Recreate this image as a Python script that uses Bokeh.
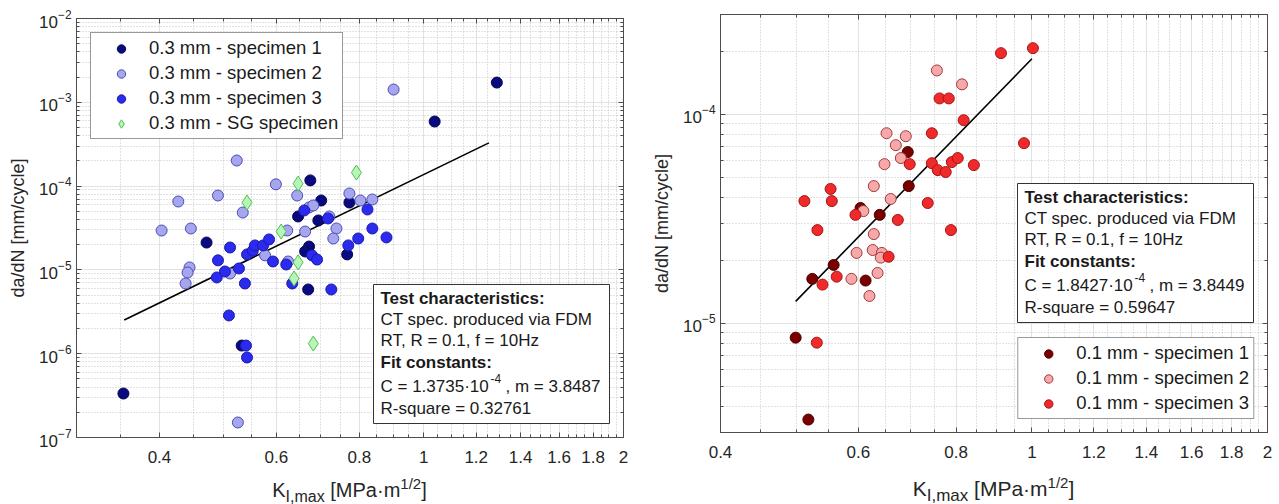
from bokeh.plotting import figure
from bokeh.layouts import row, column
from bokeh.models import (FixedTicker, LogAxis, LogTickFormatter,
                          CustomJSTickFormatter, Label, BoxAnnotation, Div)
from bokeh.embed import file_html
from bokeh.resources import INLINE

FONT = "Liberation Sans"
AXC = "#4d4d4d"
TXT = "#262626"

# ---------------- panel (a): 0.3 mm layer ----------------
a_spec1_k = [1.289, 1.039, 0.353, 0.471, 0.675, 0.701, 0.647, 0.694, 0.773, 0.672, 0.663, 0.767, 0.670, 0.532]
a_spec1_rate = [1.72e-3, 5.90e-4, 3.35e-7, 2.12e-5, 1.17e-4, 6.73e-5, 4.34e-5, 3.89e-5, 6.37e-5, 1.90e-5,
                1.66e-5, 1.53e-5, 5.84e-6, 1.25e-6]

a_spec2_k = [0.901, 0.523, 0.427, 0.490, 0.599, 0.645, 0.534, 0.403, 0.446, 0.672,
             0.682, 0.773, 0.803, 0.837, 0.721, 0.739, 0.731, 0.623, 0.663, 0.444,
             0.441, 0.438, 0.511, 0.577, 0.625, 0.525]
a_spec2_rate = [1.42e-3, 2.02e-4, 6.55e-5, 7.72e-5, 1.05e-4, 7.72e-5, 4.84e-5, 2.95e-5, 3.12e-5, 5.56e-5,
                5.87e-5, 8.16e-5, 6.73e-5, 6.92e-5, 4.34e-5, 3.12e-5, 2.37e-5, 2.95e-5, 2.87e-5, 1.07e-5,
                9.31e-6, 6.88e-6, 9.06e-6, 1.49e-5, 1.26e-5, 1.51e-7]

a_spec3_k = [0.511, 0.490, 0.488, 0.502, 0.527, 0.538, 0.542, 0.553, 0.557, 0.573,
             0.585, 0.593, 0.621, 0.509, 0.540, 0.542, 0.634, 0.679, 0.691, 0.726,
             0.770, 0.661, 0.718, 0.823, 0.837, 0.797, 0.879]
a_spec3_rate = [1.85e-5, 1.30e-5, 8.12e-6, 9.57e-6, 1.04e-5, 6.88e-6, 1.53e-5, 1.70e-5, 1.96e-5, 1.96e-5,
                2.31e-5, 1.26e-5, 1.16e-5, 2.86e-6, 1.25e-6, 9.01e-7, 6.88e-6, 1.49e-5, 1.33e-5, 5.84e-6,
                1.96e-5, 5.12e-5, 4.11e-5, 5.26e-5, 3.12e-5, 2.37e-5, 2.44e-5]

a_sg_k = [0.542, 0.647, 0.792, 0.610, 0.647, 0.638, 0.682]
a_sg_rate = [6.37e-5, 1.07e-4, 1.45e-4, 2.87e-5, 1.23e-5, 7.89e-6, 1.32e-6]

a_fit_C = 1.3735e-4
a_fit_m = 3.8487
a_fit_k = [0.354, 1.254]
a_fit_rate = [a_fit_C * k ** a_fit_m for k in a_fit_k]

# ---------------- panel (b): 0.1 mm layer ----------------
b_spec1_k = [0.694, 0.696, 0.604, 0.639, 0.558, 0.524, 0.613, 0.499, 0.518]
b_spec1_rate = [6.59e-5, 4.53e-5, 3.56e-5, 3.30e-5, 1.90e-5, 1.63e-5, 1.60e-5, 8.53e-6, 3.46e-6]

b_spec2_k = [0.756, 0.814, 0.652, 0.690, 0.670, 0.680, 0.648, 0.628, 0.660, 0.609,
             0.628, 0.597, 0.626, 0.643, 0.641, 0.635, 0.588, 0.620]
b_spec2_rate = [1.62e-4, 1.39e-4, 8.11e-5, 7.85e-5, 7.11e-5, 6.17e-5, 5.77e-5, 4.53e-5, 3.93e-5, 3.44e-5,
                2.67e-5, 2.17e-5, 2.24e-5, 2.17e-5, 2.06e-5, 1.74e-5, 1.63e-5, 1.35e-5]

b_spec3_k = [0.913, 1.003, 0.818, 0.977, 0.843, 0.762, 0.783, 0.745, 0.698, 0.745,
             0.758, 0.776, 0.790, 0.804, 0.553, 0.555, 0.512, 0.595, 0.674, 0.736,
             0.532, 0.788, 0.656, 0.563, 0.540, 0.531]
b_spec3_rate = [1.96e-4, 2.07e-4, 9.36e-5, 7.27e-5, 5.71e-5, 1.19e-4, 1.19e-4, 8.11e-5, 5.77e-5, 5.83e-5,
                5.40e-5, 5.29e-5, 5.90e-5, 6.17e-5, 4.39e-5, 3.84e-5, 3.84e-5, 3.30e-5, 3.12e-5, 3.76e-5,
                2.79e-5, 2.79e-5, 2.08e-5, 1.67e-5, 1.53e-5, 8.07e-6]

b_fit_C = 1.8427e-4
b_fit_m = 3.8449
b_fit_k = [0.499, 1.0]
b_fit_rate = [b_fit_C * k ** b_fit_m for k in b_fit_k]

# ---------------- ticks ----------------
x_major = [0.4, 0.6, 0.8, 1, 1.2, 1.4, 1.6, 1.8, 2]
a_x_minor = [round(0.3 + 0.05 * i, 2) for i in range(34)]
a_x_minor = [v for v in a_x_minor if all(abs(v - t) > 1e-9 for t in x_major)]
b_x_minor = [v for v in a_x_minor if v > 0.4]
a_y_major = [1e-7, 1e-6, 1e-5, 1e-4, 1e-3, 1e-2]
a_y_minor = [k * 10.0 ** e for e in range(-7, -2) for k in range(2, 10)]
b_y_major = [1e-5, 1e-4]
b_y_minor = [k * 10.0 ** e for e in range(-6, -3) for k in range(2, 10)]
b_y_minor = [v for v in b_y_minor if 2.9e-6 < v < 3.1e-4]


def x_label_html(sub_fs, sup_fs):
    return (f'K<sub style="font-size:{sub_fs}px">I,max</sub> [MPa&middot;m'
            f'<sup style="font-size:{sup_fs}px">1/2</sup>]')


def style_axis(ax, standoff):
    ax.axis_line_color = AXC
    ax.major_tick_in = 5
    ax.major_tick_out = 0
    ax.minor_tick_in = 3
    ax.minor_tick_out = 0
    ax.major_tick_line_color = AXC
    ax.minor_tick_line_color = AXC
    ax.major_label_text_font = FONT
    ax.major_label_text_font_size = "17px"
    ax.major_label_text_color = TXT
    ax.major_label_standoff = standoff


def panel(x_range, y_range, x_minor, y_major, y_minor, width, height, mb):
    p = figure(width=width, height=height, x_axis_type="log", y_axis_type="log",
               x_range=x_range, y_range=y_range, output_backend="svg",
               toolbar_location=None, min_border_left=mb[0], min_border_right=mb[1],
               min_border_top=mb[2], min_border_bottom=mb[3])
    p.background_fill_color = "white"
    p.border_fill_color = "white"
    p.outline_line_color = AXC
    p.outline_line_width = 1
    xt = FixedTicker(ticks=x_major, minor_ticks=x_minor)
    yt = FixedTicker(ticks=y_major, minor_ticks=y_minor)
    p.xaxis.ticker = xt
    p.yaxis.ticker = yt
    p.xgrid.ticker = xt
    p.ygrid.ticker = yt
    p.xaxis.formatter = CustomJSTickFormatter(code="return (Math.round(tick*100)/100).toString();")
    p.yaxis.formatter = LogTickFormatter()
    style_axis(p.xaxis[0], 13)
    style_axis(p.yaxis[0], 5)
    p.yaxis.axis_label = "da/dN [mm/cycle]"
    p.yaxis.axis_label_text_font = FONT
    p.yaxis.axis_label_text_font_size = "18px"
    p.yaxis.axis_label_text_font_style = "normal"
    p.yaxis.axis_label_text_color = TXT
    p.yaxis.axis_label_standoff = 8
    for g in (p.xgrid, p.ygrid):
        g.grid_line_color = "#e2e2e2"
        g.grid_line_width = 1
        g.minor_grid_line_color = "#c4c4c4"
        g.minor_grid_line_dash = "1 2"
        g.minor_grid_line_width = 1
    blank = CustomJSTickFormatter(code="return '';")
    top = LogAxis(ticker=xt, formatter=blank)
    style_axis(top, 0)
    p.add_layout(top, "above")
    right = LogAxis(ticker=yt, formatter=blank)
    style_axis(right, 0)
    p.add_layout(right, "right")
    return p


def info_box(p, top, C_txt, m_txt, r2_txt):
    p.add_layout(BoxAnnotation(left=297, right=533, bottom=top - 139, top=top,
                               left_units="screen", right_units="screen",
                               top_units="screen", bottom_units="screen",
                               fill_color="white", fill_alpha=1.0,
                               line_color="#333333", line_width=1, line_alpha=1.0))
    lines = [("Test characteristics:", "bold", 14), ("CT spec. produced via FDM", "normal", 35),
             ("RT, R = 0.1, f = 10Hz", "normal", 56), ("Fit constants:", "bold", 78),
             (r2_txt, "normal", 124)]
    for txt, st, off in lines:
        p.add_layout(Label(x=304, y=top - off, x_units="screen", y_units="screen", text=txt,
                           text_font=FONT, text_font_size="17px", text_font_style=st,
                           text_color="#1a1a1a", text_baseline="middle"))
    yc = top - 102
    p.add_layout(Label(x=304, y=yc, x_units="screen", y_units="screen", text=C_txt,
                       text_font=FONT, text_font_size="17px", text_color="#1a1a1a",
                       text_baseline="middle"))
    p.add_layout(Label(x=414, y=yc + 8, x_units="screen", y_units="screen", text="-4",
                       text_font=FONT, text_font_size="12px", text_color="#1a1a1a",
                       text_baseline="middle"))
    p.add_layout(Label(x=429, y=yc, x_units="screen", y_units="screen", text=m_txt,
                       text_font=FONT, text_font_size="17px", text_color="#1a1a1a",
                       text_baseline="middle"))


def style_legend(p, loc, margin):
    lg = p.legend[0]
    lg.location = loc
    lg.margin = margin
    lg.padding = 4
    lg.spacing = 3
    lg.glyph_width = 52
    lg.glyph_height = 21
    lg.label_height = 21
    lg.label_standoff = 2
    lg.label_text_font = FONT
    lg.label_text_font_size = "18.5px"
    lg.label_text_color = "#1a1a1a"
    lg.border_line_color = "#333333"
    lg.border_line_width = 1
    lg.background_fill_color = "white"
    lg.background_fill_alpha = 1.0


def x_label_div(width, ml, mr, pad_top, fs, sub_fs, sup_fs):
    return Div(text=x_label_html(sub_fs, sup_fs), width=width, height=504 - 470,
               margin=(0, mr, 0, ml),
               styles={"font-family": FONT, "font-size": f"{fs}px", "color": TXT,
                       "text-align": "center", "line-height": "20px",
                       "padding-top": f"{pad_top}px", "white-space": "nowrap",
                       "width": f"{width}px", "overflow": "visible"})


# ---------------- panel (a) ----------------
p1 = panel((0.3, 2), (1e-7, 1e-2), a_x_minor, a_y_major, a_y_minor, 640, 470, (76, 17, 18, 33))
p1.line(a_fit_k, a_fit_rate, line_color="black", line_width=1.6)
p1.scatter(a_spec1_k, a_spec1_rate, marker="circle", size=11, fill_color="#0a0a80",
           line_color="#05054d", legend_label="0.3 mm - specimen 1")
p1.scatter(a_spec2_k, a_spec2_rate, marker="circle", size=11, fill_color="#a6a6ee",
           line_color="#4b4bb4", legend_label="0.3 mm - specimen 2")
p1.scatter(a_spec3_k, a_spec3_rate, marker="circle", size=11, fill_color="#2b2bef",
           line_color="#1a1aa8", legend_label="0.3 mm - specimen 3")
p1.scatter(a_sg_k, a_sg_rate, marker="diamond", size=15, fill_color="#b8f5b8",
           line_color="#4fbf4f", legend_label="0.3 mm - SG specimen")
style_legend(p1, "top_left", 14)
info_box(p1, 153, "C = 1.3735\u00b710", ",  m = 3.8487", "R-square = 0.32761")
d1 = x_label_div(547, 76, 17, 4, 20, 16, 15)

# ---------------- panel (b) ----------------
p2 = panel((0.4, 2), (3e-6, 3e-4), b_x_minor, b_y_major, b_y_minor, 639, 470, (80, 12, 14, 38))
p2.line(b_fit_k, b_fit_rate, line_color="black", line_width=1.6)
p2.scatter(b_spec1_k, b_spec1_rate, marker="circle", size=11, fill_color="#7a0000",
           line_color="#4a0000", legend_label="0.1 mm - specimen 1")
p2.scatter(b_spec2_k, b_spec2_rate, marker="circle", size=11, fill_color="#f7a9a9",
           line_color="#a33a3a", legend_label="0.1 mm - specimen 2")
p2.scatter(b_spec3_k, b_spec3_rate, marker="circle", size=11, fill_color="#f02a2a",
           line_color="#a51515", legend_label="0.1 mm - specimen 3")
style_legend(p2, "bottom_right", 13)
info_box(p2, 249, "C = 1.8427\u00b710", ",  m = 3.8449", "R-square = 0.59647")
d2 = x_label_div(547, 80, 12, 3, 21, 17, 15)

layout = row(column(p1, d1), column(p2, d2))
open("out.html", "w").write(file_html(layout, INLINE))
